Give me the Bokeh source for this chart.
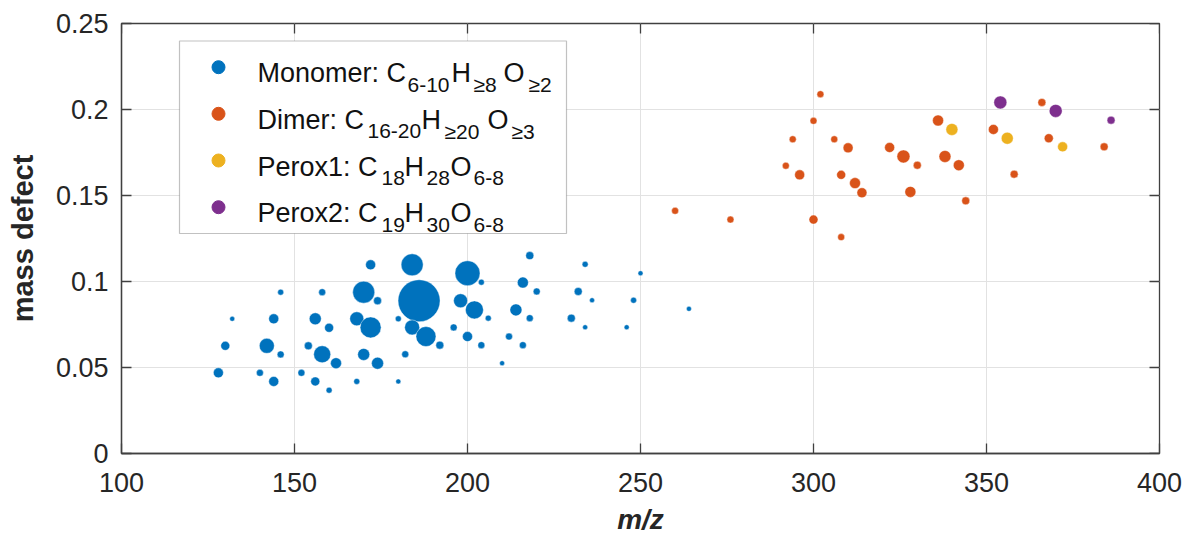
from bokeh.plotting import figure
from bokeh.models import (ColumnDataSource, FixedTicker, Label,
                          BoxAnnotation, Range1d)
from bokeh.embed import file_html
from bokeh.resources import INLINE

# ---------------- data ----------------
mono_mz = [128, 130, 132, 140, 142, 144, 144, 146, 146, 152, 156, 160, 154, 158,
           162, 156, 160, 158, 172, 170, 174, 168, 172, 170, 174, 168, 180, 180,
           182, 184, 186, 184, 188, 192, 200, 204, 198, 202, 206, 196, 200, 204,
           210, 218, 234, 250, 216, 220, 232, 236, 248, 264, 214, 218, 230, 234,
           246, 212, 216]
mono_md = [0.0469, 0.0626, 0.0783, 0.0469, 0.0626, 0.0783, 0.0419, 0.0938, 0.0576,
           0.0469, 0.0419, 0.0368, 0.0626, 0.0577, 0.0525, 0.0783, 0.0731, 0.0938,
           0.1097, 0.0938, 0.0888, 0.0783, 0.0733, 0.0576, 0.0525, 0.0419, 0.0783,
           0.0419, 0.0577, 0.1097, 0.0888, 0.0733, 0.0680, 0.0630, 0.1048, 0.0996,
           0.0888, 0.0835, 0.0787, 0.0733, 0.0680, 0.0630, 0.0525, 0.1151, 0.1100,
           0.1048, 0.0994, 0.0942, 0.0942, 0.0891, 0.0891, 0.0841, 0.0835, 0.0787,
           0.0787, 0.0734, 0.0734, 0.0680, 0.0630]
mono_size = [10, 9, 5, 7, 15, 10, 10, 6, 7, 7, 9, 6, 8, 17, 11, 12, 9, 7, 10, 22,
             8, 14, 21, 12, 12, 6, 6, 5, 7, 22, 42, 15, 20, 8, 25, 6, 14, 18, 6, 7,
             10, 7, 5, 8, 6, 5, 11, 7, 8, 5, 6, 5, 12, 7, 8, 5, 5, 7, 7]

dimer_mz = [302, 300, 294, 306, 310, 292, 296, 308, 312, 314, 260, 276, 300, 308,
            336, 322, 326, 330, 338, 342, 328, 344, 366, 352, 368, 384, 358]
dimer_md = [0.2089, 0.1934, 0.1827, 0.1827, 0.1777, 0.1673, 0.1620, 0.1620, 0.1572,
            0.1516, 0.1411, 0.1360, 0.1360, 0.1258, 0.1936, 0.1779, 0.1727, 0.1676,
            0.1727, 0.1676, 0.1521, 0.1469, 0.2041, 0.1884, 0.1833, 0.1783, 0.1624]
dimer_size = [7, 7, 7, 7, 10, 7, 10, 9, 11, 10, 7, 7, 9, 7, 11, 10, 13, 8, 12, 11,
              11, 8, 8, 10, 9, 8, 8]

perox1_mz = [340, 356, 372]
perox1_md = [0.1884, 0.1833, 0.1783]
perox1_size = [12, 12, 10]

perox2_mz = [354, 370, 386]
perox2_md = [0.2041, 0.1992, 0.1938]
perox2_size = [13, 13, 8]

series_colors = ["#0072BD", "#D95319", "#EDB120", "#7E2F8E"]

x_ticks = [100, 150, 200, 250, 300, 350, 400]
y_ticks = [0, 0.05, 0.1, 0.15, 0.2, 0.25]
y_tick_labels = ["0", "0.05", "0.1", "0.15", "0.2", "0.25"]

# legend texts: (text, is_subscript)
legend_rows = [
    [("Monomer: C", False), ("6-10", True), ("H", False), ("\u22658", True), ("O", False), ("\u22652", True)],
    [("Dimer: C", False), ("16-20", True), ("H", False), ("\u226520", True), ("O", False), ("\u22653", True)],
    [("Perox1: C", False), ("18", True), ("H", False), ("28", True), ("O", False), ("6-8", True)],
    [("Perox2: C", False), ("19", True), ("H", False), ("30", True), ("O", False), ("6-8", True)],
]
# horizontal start of each text piece (page pixels), per row
legend_piece_px = [
    [257, 407, 451, 473, 503, 528],
    [257, 367, 421, 444, 487, 511],
    [257, 381, 404, 426, 450, 473],
    [257, 381, 404, 426, 450, 473],
]

# ---------------- layout ----------------
W, H = 1186, 541
BL, BR, BT, BB = 121, 27, 23, 88
FRAME_L = BL
FRAME_T = BT
FRAME_W = W - BL - BR
FRAME_H = H - BT - BB
X0, X1 = 100, 400
Y0, Y1 = 0, 0.25
TICK_PX = 10


def dx(px):
    return X0 + (px - FRAME_L) / FRAME_W * (X1 - X0)


def dy(py):
    return Y0 + (FRAME_T + FRAME_H - py) / FRAME_H * (Y1 - Y0)


FONT = "Liberation Sans"
TXT = "#262626"
AX = "#404040"

p = figure(width=W, height=H, x_range=Range1d(X0, X1), y_range=Range1d(Y0, Y1),
           output_backend="svg", toolbar_location=None,
           min_border_left=BL, min_border_right=BR, min_border_top=BT,
           min_border_bottom=BB)
p.outline_line_color = AX
p.outline_line_width = 1.3
p.background_fill_color = "white"
p.border_fill_color = "white"

xt = FixedTicker(ticks=x_ticks)
yt = FixedTicker(ticks=y_ticks)

for ax in p.axis:
    ax.axis_line_color = AX
    ax.axis_line_width = 1.3
    ax.major_tick_line_color = AX
    ax.major_tick_line_width = 1.3
    ax.major_tick_in = TICK_PX
    ax.major_tick_out = 0
    ax.minor_tick_line_color = None
    ax.major_label_text_font = FONT
    ax.major_label_text_color = TXT
    ax.major_label_text_font_size = "27px"

xa = p.xaxis[0]
xa.ticker = xt
xa.major_label_standoff = 19
xa.axis_label = "m/z"
xa.axis_label_text_font = FONT
xa.axis_label_text_font_style = "bold italic"
xa.axis_label_text_font_size = "28px"
xa.axis_label_text_color = TXT
xa.axis_label_standoff = 9

ya = p.yaxis[0]
ya.ticker = yt
ya.major_label_overrides = {v: s for v, s in zip(y_ticks, y_tick_labels)}
ya.major_label_standoff = 13
ya.axis_label = "mass defect"
ya.axis_label_text_font = FONT
ya.axis_label_text_font_style = "bold"
ya.axis_label_text_font_size = "29px"
ya.axis_label_text_color = TXT
ya.axis_label_standoff = 14

p.xgrid.ticker = xt
p.ygrid.ticker = yt
p.grid.grid_line_color = "#e2e2e2"
p.grid.grid_line_width = 1

# inward tick marks on the top and right edges of the box
tick_dy = TICK_PX / FRAME_H * (Y1 - Y0)
tick_dx = TICK_PX / FRAME_W * (X1 - X0)
top_src = ColumnDataSource(dict(x=x_ticks, y0=[Y1] * len(x_ticks),
                                y1=[Y1 - tick_dy] * len(x_ticks)))
p.segment(x0="x", y0="y0", x1="x", y1="y1", source=top_src,
          line_color=AX, line_width=1.3)
right_src = ColumnDataSource(dict(y=y_ticks, x0=[X1] * len(y_ticks),
                                  x1=[X1 - tick_dx] * len(y_ticks)))
p.segment(x0="x0", y0="y", x1="x1", y1="y", source=right_src,
          line_color=AX, line_width=1.3)

# ---------------- points ----------------
groups = [
    (mono_mz, mono_md, mono_size),
    (dimer_mz, dimer_md, dimer_size),
    (perox1_mz, perox1_md, perox1_size),
    (perox2_mz, perox2_md, perox2_size),
]
for (mz, md, sz), col in zip(groups, series_colors):
    src = ColumnDataSource(dict(x=mz, y=md, s=sz))
    p.scatter("x", "y", size="s", source=src, marker="circle",
              fill_color=col, line_color="white", line_width=0.6, line_alpha=0.7)

# ---------------- legend (drawn by hand for sub-scripts) ----------------
box = BoxAnnotation(left=dx(179), right=dx(566), top=dy(40.5), bottom=dy(233),
                    fill_color="white", fill_alpha=1.0, line_color="#333333",
                    line_width=1.2, level="annotation")
p.add_layout(box)

row_base_px = [72.7, 119.3, 166.0, 212.7]
row_center_px = [66.7, 113.3, 160.0, 206.7]
SUB_DROP = 11.4

leg_src = ColumnDataSource(dict(x=[dx(218)] * 4, y=[dy(c) for c in row_center_px],
                                c=series_colors))
r = p.scatter("x", "y", size=13, source=leg_src, marker="circle",
              fill_color="c", line_color="c")
r.level = "overlay"

for row, pxs, base in zip(legend_rows, legend_piece_px, row_base_px):
    for (txt, sub), px in zip(row, pxs):
        yy = base + SUB_DROP if sub else base
        p.add_layout(Label(x=dx(px), y=dy(yy), text=txt, text_font=FONT,
                           text_font_size="21px" if sub else "27px",
                           text_color="#111111", text_align="left",
                           text_baseline="alphabetic"))

open("out.html", "w").write(file_html(p, INLINE))
